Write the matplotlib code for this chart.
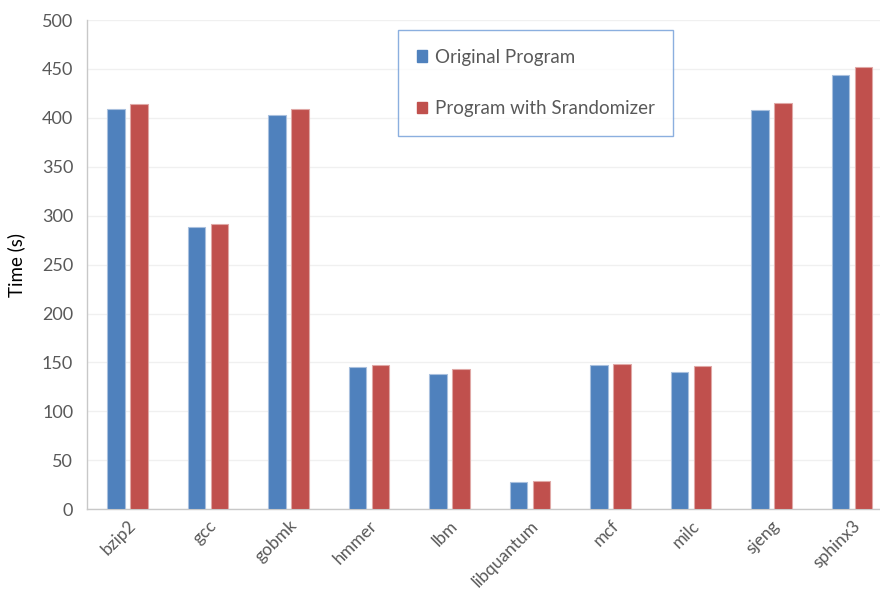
import numpy as np
import matplotlib.pyplot as plt
from matplotlib.patches import Patch

benchmarks = ['bzip2', 'gcc', 'gobmk', 'hmmer', 'lbm', 'libquantum',
              'mcf', 'milc', 'sjeng', 'sphinx3']
original = [409, 288, 403, 145, 138, 28, 147, 140, 408, 444]
srandomizer = [414, 292, 409, 147, 143, 29, 148, 146, 415, 452]

blue = '#4F81BD'
red = '#C0504D'
grey = '#595959'

plt.rcParams['font.family'] = ['Lato', 'DejaVu Sans']

fig = plt.figure(figsize=(8.8, 5.9), dpi=100)
ax = fig.add_axes([0.099, 0.137, 0.915, 0.829])

x = np.arange(len(benchmarks))
w = 0.22
off = 0.143
ax.bar(x - off, original, w, color=blue, edgecolor='#a9c0de', linewidth=0.8, zorder=3)
ax.bar(x + off, srandomizer, w, color=red, edgecolor='#e0a8a6', linewidth=0.8, zorder=3)

ax.set_xlim(-0.5, len(benchmarks) - 0.5)
ax.set_ylim(0, 500)
ax.set_yticks(range(0, 501, 50))
ax.yaxis.grid(True, color='#f0f0f0', linewidth=1, zorder=0)
ax.set_axisbelow(True)

ax.set_xticks(x)
ax.set_xticklabels(benchmarks, rotation=45, ha='right', rotation_mode='anchor',
                   fontsize=12.5, color=grey)
ax.tick_params(axis='y', labelsize=13, labelcolor=grey, length=0, pad=10)
ax.tick_params(axis='x', length=0, pad=6)

for s in ['top', 'right']:
    ax.spines[s].set_visible(False)
for s in ['left', 'bottom']:
    ax.spines[s].set_color('#c8c8c8')
    ax.spines[s].set_linewidth(1)

ax.set_ylabel('Time (s)', fontsize=13.5, color='black', labelpad=12)

handles = [Patch(color=blue, label='Original Program'),
           Patch(color=red, label='Program with Srandomizer')]
leg = fig.legend(handles=handles, loc='upper left',
                 bbox_to_anchor=(398 / 880, 1 - 30 / 590),
                 frameon=True, fancybox=False, fontsize=13.5,
                 handlelength=0.55, handleheight=0.55, handletextpad=0.4,
                 labelspacing=1.85, borderpad=1.0, borderaxespad=0)
leg.get_frame().set_edgecolor('#6e9bd8')
leg.get_frame().set_linewidth(1)
for t in leg.get_texts():
    t.set_color(grey)

fig.savefig('out.png', dpi=100)
